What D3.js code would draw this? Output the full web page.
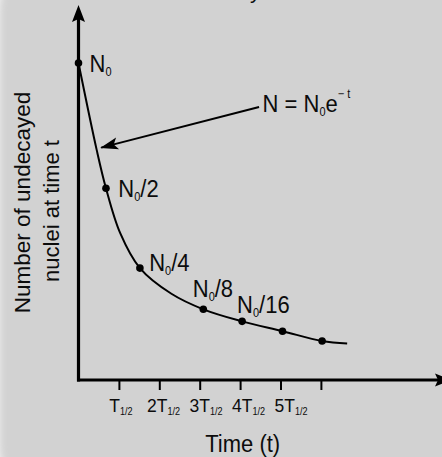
<!DOCTYPE html>
<html>
<head>
<meta charset="utf-8">
<script src="https://cdn.jsdelivr.net/npm/d3@7"></script>
<style>
  html, body { margin: 0; padding: 0; background: #ffffff; }
  svg { display: block; }
  text { font-family: "Liberation Sans", Arial, Helvetica, sans-serif; fill: #0c0c0c; }
</style>
</head>
<body>
<div id="chart"></div>
<script>
// half-life ticks on the time axis
var halfLives = [1, 2, 3, 4, 5, 6];
var tickLabels = ["T", "2T", "3T", "4T", "5T", ""];

// marked points (time in half-lives, N as a fraction of N0)
var dotT = [0, 0.68, 1.52, 3.09, 4.05, 5.05, 6.03];
var dotN = [1, 0.605, 0.353, 0.223, 0.185, 0.154, 0.123];
var dotLabels = ["", "/2", "/4", "/8", "/16", null, null];

// the drawn decay curve
var curveT = [0, 0.45, 0.68, 1.03, 1.52, 2.3, 3.09, 4.05, 5.05, 6.03, 6.65];
var curveN = [1, 0.726, 0.605, 0.464, 0.353, 0.272, 0.223, 0.185, 0.154, 0.123, 0.115];

var w = 442;
var h = 457;

// label nudges for each marked point, px (dx, dy from the dot)
var labelOffsets = [[11, 8.7], [12.3, 8.4], [9.3, 2.7], [-10.6, -12.5], [-5, -8]];

var svg = d3.select("#chart")
            .append("svg")
            .attr("width", w)
            .attr("height", h);

var defs = svg.append("defs");
defs.append("filter")
    .attr("id", "soft")
    .attr("x", "-20%").attr("y", "-20%")
    .attr("width", "140%").attr("height", "140%")
    .append("feGaussianBlur")
    .attr("stdDeviation", 5);

defs.append("marker")
    .attr("id", "head")
    .attr("markerUnits", "userSpaceOnUse")
    .attr("viewBox", "-20 -8 22 16")
    .attr("refX", 0).attr("refY", 0)
    .attr("markerWidth", 22).attr("markerHeight", 16)
    .attr("orient", "auto")
    .append("path")
    .attr("d", "M1,0 L-17,-6 L-13,0 L-17,6 Z")
    .attr("fill", "#000");

// grey card with a soft corner
svg.append("rect")
    .attr("x", -2).attr("y", -40)
    .attr("width", w + 40).attr("height", h + 80)
    .attr("rx", 50)
    .attr("fill", "#d2d2d2")
    .attr("filter", "url(#soft)");

var x = d3.scaleLinear().domain([0, 9]).range([78.5, 442.1]);
var y = d3.scaleLinear().domain([0, 1]).range([380, 63]);

// title, only its bottom shows at the top edge
svg.append("text")
    .attr("x", 261).attr("y", -2)
    .attr("text-anchor", "end")
    .style("font-size", "22px")
    .text("Radioactive Decay");

// text with sub / superscripts, stretched a little upright like the original
function richText(px, py, parts, size, anchor) {
    var t = svg.append("text")
        .attr("transform", "translate(" + px + "," + py + ") scale(1,1.1)")
        .attr("text-anchor", anchor || "start");
    var shift = 0;
    parts.forEach(function(p) {
        var target = p[1] === "sub" ? size * 0.17 : (p[1] === "sup" ? -size * 0.58 : 0);
        t.append("tspan")
            .attr("dy", target - shift)
            .style("font-size", (p[1] === "n" ? size : size * (p[2] || 0.5)) + "px")
            .text(p[0]);
        shift = target;
    });
    return t;
}

// x axis ticks
var xAxis = d3.axisBottom(x)
    .tickValues(halfLives)
    .tickSize(10)
    .tickFormat("");

var gx = svg.append("g")
    .attr("transform", "translate(0," + y(0) + ")")
    .call(xAxis);
gx.select(".domain").remove();
gx.selectAll(".tick line").attr("stroke", "#000").attr("stroke-width", 2);

// tick labels drift slightly right in the drawing (about 2px per half-life)
halfLives.forEach(function(k, i) {
    if (!tickLabels[i]) return;
    richText(x(k) + 2.1 * k, 411.5, [[tickLabels[i], "n"], ["1/2", "sub", 0.52]], 17.5, "middle");
});

// axes lines with arrow heads
svg.append("line")
    .attr("x1", x(0)).attr("y1", y(0) + 1.5)
    .attr("x2", x(0)).attr("y2", 18)
    .attr("stroke", "#000").attr("stroke-width", 3.2);
svg.append("path")
    .attr("d", "M" + x(0) + ",5 L" + (x(0) - 6.5) + ",22 L" + x(0) + ",19 L" + (x(0) + 6.5) + ",22 Z")
    .attr("fill", "#000");

svg.append("line")
    .attr("x1", x(0) - 1.5).attr("y1", y(0))
    .attr("x2", 440).attr("y2", y(0))
    .attr("stroke", "#000").attr("stroke-width", 3.2);
svg.append("path")
    .attr("d", "M452," + y(0) + " L435," + (y(0) - 6.5) + " L438," + y(0) + " L435," + (y(0) + 6.5) + " Z")
    .attr("fill", "#000");

// decay curve
var curveData = curveT.map(function(t, i) { return [t, curveN[i]]; });
svg.append("path")
    .datum(curveData)
    .attr("fill", "none")
    .attr("stroke", "#000")
    .attr("stroke-width", 2)
    .attr("d", d3.line()
        .x(function(d) { return x(d[0]); })
        .y(function(d) { return y(d[1]); })
        .curve(d3.curveCatmullRom.alpha(0.5)));

// dots
svg.selectAll("circle.dot")
    .data(dotT)
    .enter()
    .append("circle")
    .attr("class", "dot")
    .attr("cx", function(d) { return x(d); })
    .attr("cy", function(d, i) { return y(dotN[i]); })
    .attr("r", 3.8)
    .attr("fill", "#000");

// N0 labels
dotLabels.forEach(function(lab, i) {
    if (lab === null) return;
    var o = labelOffsets[i];
    richText(x(dotT[i]) + o[0], y(dotN[i]) + o[1], [["N", "n"], ["0", "sub"], [lab, "n"]], 22);
});

// formula annotation with arrow pointing at the curve
var noteFrom = [4.47, 0.861];
var noteTo = [0.56, 0.733];
svg.append("line")
    .attr("x1", x(noteFrom[0])).attr("y1", y(noteFrom[1]))
    .attr("x2", x(noteTo[0])).attr("y2", y(noteTo[1]))
    .attr("stroke", "#000")
    .attr("stroke-width", 2)
    .attr("marker-end", "url(#head)");

richText(x(noteFrom[0]) + 3.5, y(noteFrom[1]) + 4.7,
    [["N = N", "n"], ["0", "sub"], ["e", "n"], ["\u2212 t", "sup"]], 22);

// axis titles
richText(242.7, 451.5, [["Time (t)", "n"]], 22, "middle");

var ylab = svg.append("g")
    .attr("transform", "translate(29.5,202.5) rotate(-90)");
ylab.append("text")
    .attr("text-anchor", "middle")
    .style("font-size", "22.5px")
    .text("Number of undecayed");
ylab.append("text")
    .attr("text-anchor", "middle")
    .attr("x", -8.5)
    .attr("y", 29)
    .style("font-size", "22px")
    .text("nuclei at time t");
</script>
</body>
</html>
